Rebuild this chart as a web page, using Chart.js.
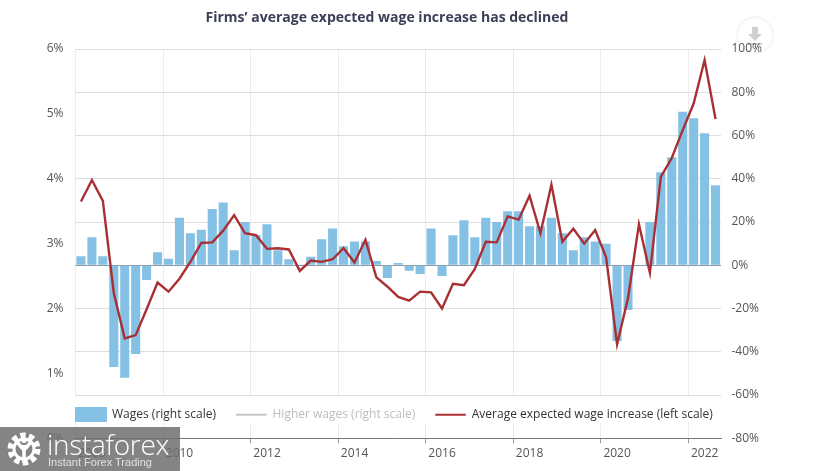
<!DOCTYPE html>
<html>
<head>
<meta charset="utf-8">
<script src="https://cdn.jsdelivr.net/npm/chart.js@4"></script>
<style>
  html, body { margin: 0; padding: 0; background: #fff; }
  #wrap { position: relative; width: 816px; height: 471px; overflow: hidden; }
  #myChart { position: absolute; left: 0; top: 0; }
  #download { position: absolute; left: 735px; top: 15px; }
  #logo { position: absolute; left: 0; top: 427px; width: 180px; height: 44px; background: rgba(110,110,110,.85); color: #fff; }
  #logo svg { position: absolute; left: 6px; top: 4px; }
  #logo .name { position: absolute; left: 47px; top: -2px; font: 300 28px "Open Sans", sans-serif; letter-spacing: -.3px; white-space: nowrap; }
  #logo .sub { position: absolute; left: 48px; top: 29px; font: 11px "Liberation Sans", sans-serif; color: #e2e2e2; white-space: nowrap; }
</style>
</head>
<body>
<div id="wrap">
  <svg id="download" width="42" height="42">
    <circle cx="20" cy="20" r="18" fill="#fff" stroke="#f3f3f3" stroke-width="1.5"/>
    <path d="M17 13h6v7h4l-7 7-7-7h4z M13 29h14v2H13z" fill="#cfcfcf" transform="translate(0,-1)"/>
  </svg>
  <canvas id="myChart" width="816" height="471"></canvas>
  <div id="logo">
    <svg width="36" height="36" viewBox="0 0 36 36">
      <circle cx="18" cy="18" r="13" fill="none" stroke="#fff" stroke-width="7" stroke-dasharray="5 3.2"/>
      <circle cx="18" cy="18" r="10" fill="none" stroke="#fff" stroke-width="3"/>
      <path d="M18 14v18 M10 10l8 9 8-9" fill="none" stroke="#fff" stroke-width="3.5"/>
      <circle cx="18" cy="9" r="3" fill="#fff"/>
    </svg>
    <div class="name">instaforex</div>
    <div class="sub">Instant Forex Trading</div>
  </div>
</div>
<script>
const chartTitle = 'Firms’ average expected wage increase has declined';
const quarters = [
  '2008Q1','2008Q2','2008Q3','2008Q4','2009Q1','2009Q2','2009Q3','2009Q4',
  '2010Q1','2010Q2','2010Q3','2010Q4','2011Q1','2011Q2','2011Q3','2011Q4',
  '2012Q1','2012Q2','2012Q3','2012Q4','2013Q1','2013Q2','2013Q3','2013Q4',
  '2014Q1','2014Q2','2014Q3','2014Q4','2015Q1','2015Q2','2015Q3','2015Q4',
  '2016Q1','2016Q2','2016Q3','2016Q4','2017Q1','2017Q2','2017Q3','2017Q4',
  '2018Q1','2018Q2','2018Q3','2018Q4','2019Q1','2019Q2','2019Q3','2019Q4',
  '2020Q1','2020Q2','2020Q3','2020Q4','2021Q1','2021Q2','2021Q3','2021Q4',
  '2022Q1','2022Q2','2022Q3'
];
const tickYears = ['2008','2010','2012','2014','2016','2018','2020','2022'];
const wages = [
  4.2, 13, 4.2, -47, -52, -41, -6.8, 6,
  3, 22, 14.8, 16.4, 26, 29, 7, 20,
  14, 19, 7, 2.8, 0.4, 4, 12, 17,
  8.8, 11, 11, 2, -5.9, 1, -2.5, -4,
  17, -5, 13.9, 20.8, 13, 22, 20, 25,
  25, 18, 18, 22, 14.8, 7, 13, 11,
  10, -35, -20.7, 0, 20, 43, 50, 71,
  68, 61, 37
];
const higherWages = [];
const expectedIncrease = [
  3.65, 3.98, 3.66, 2.24, 1.54, 1.59, 1.99, 2.40,
  2.26, 2.46, 2.72, 3.01, 3.02, 3.2, 3.44, 3.16,
  3.13, 2.92, 2.93, 2.91, 2.58, 2.74, 2.72, 2.76,
  2.93, 2.71, 3.06, 2.48, 2.34, 2.18, 2.12, 2.26,
  2.25, 2.0, 2.38, 2.36, 2.61, 3.03, 3.02, 3.42,
  3.37, 3.74, 3.16, 3.91, 3.03, 3.23, 3.0, 3.21,
  2.79, 1.45, 2.16, 3.30, 2.55, 4.03, 4.32, 4.75,
  5.16, 5.83, 4.92
];

const BAR_BLUE = '#85c1e5';
const LINE_RED = '#a83034';
const FONT = '"Open Sans", sans-serif';

// solid swatch for the bar series, the legend's own rect is capped at font height
const barSwatch = document.createElement('canvas');
barSwatch.width = 32;
barSwatch.height = 15;
const swatchCtx = barSwatch.getContext('2d');
swatchCtx.fillStyle = BAR_BLUE;
swatchCtx.fillRect(0, 0, 32, 15);

const isYearTick = (i) => {
  const q = quarters[i];
  return !!q && q.endsWith('Q1') && tickYears.includes(q.slice(0, 4));
};

// legend sits inside the plot, on a white strip; bounds matter since draw() clips to them
const legendStrip = {
  id: 'legendStrip',
  afterLayout(chart) {
    const legend = chart.legend;
    legend.left = 55.5;
    legend.right = 760;
    legend.top = 388.8;
    legend.bottom = 440;
  },
  beforeDatasetsDraw(chart) {
    const { ctx, chartArea } = chart;
    ctx.save();
    ctx.fillStyle = '#fff';
    ctx.fillRect(chartArea.left - 1, 396.5, chartArea.width + 2, 26.5);
    ctx.restore();
    chart.legend.draw();
  }
};

new Chart(document.getElementById('myChart'), {
  data: {
    labels: quarters,
    datasets: [
      { type: 'bar', label: 'Wages (right scale)', data: wages, yAxisID: 'yR', backgroundColor: BAR_BLUE,
        borderWidth: 0, categoryPercentage: 0.83, barPercentage: 1, order: 2 },
      { type: 'line', label: 'Higher wages (right scale)', data: higherWages, yAxisID: 'yR', borderColor: '#c4c8c8',
        borderWidth: 2, pointRadius: 0, order: 1 },
      { type: 'line', label: 'Average expected wage increase (left scale)', data: expectedIncrease, yAxisID: 'yL',
        borderColor: LINE_RED, borderWidth: 2.4, pointRadius: 0, tension: 0, order: 0 }
    ]
  },
  options: {
    responsive: false,
    animation: false,
    layout: { padding: { left: 0, right: 42, top: 0, bottom: 0 } },
    plugins: {
      tooltip: { enabled: false },
      title: {
        display: true,
        text: chartTitle,
        color: '#3b3f58',
        font: { family: FONT, size: 14, weight: '700', lineHeight: 1.2 },
        padding: { top: 10, bottom: 21.2 }
      },
      legend: {
        position: 'top',
        align: 'start',
        maxHeight: 1,
        labels: {
          usePointStyle: true,
          pointStyleWidth: 30.5,
          padding: 20,
          font: { family: FONT, size: 12 },
          generateLabels(chart) {
            return chart.data.datasets.map((ds, i) => ({
              text: ds.label,
              datasetIndex: i,
              fontColor: i === 1 ? '#bcbcbc' : '#333',
              pointStyle: i === 0 ? barSwatch : 'line',
              strokeStyle: ds.borderColor,
              fillStyle: ds.backgroundColor,
              lineWidth: 2
            }));
          }
        }
      }
    },
    scales: {
      x: {
        type: 'category',
        offset: true,
        afterFit(scale) { scale.height = 32.7; },
        border: { color: '#777', width: 1 },
        grid: {
          offset: true,
          tickLength: 5,
          color: (c) => (isYearTick(c.index) ? '#ececec' : 'rgba(0,0,0,0)'),
          tickColor: (c) => (isYearTick(c.index) ? '#999' : 'rgba(0,0,0,0)')
        },
        ticks: {
          autoSkip: false,
          maxRotation: 0,
          minRotation: 0,
          labelOffset: 11,
          padding: 3,
          color: '#555',
          font: { family: FONT, size: 12 },
          callback(value, index) { return isYearTick(index) ? quarters[index].slice(0, 4) : ''; }
        }
      },
      yL: {
        position: 'left',
        min: 0,
        max: 6,
        afterFit(scale) { scale.width = 75.5; },
        border: { display: false },
        grid: { display: false, drawTicks: false },
        ticks: {
          stepSize: 1,
          padding: 12,
          color: '#555',
          font: { family: FONT, size: 12 },
          callback: (v) => v + '%'
        }
      },
      yR: {
        position: 'right',
        min: -80,
        max: 100,
        afterFit(scale) { scale.width = 53; },
        border: { display: false },
        grid: {
          drawTicks: false,
          color: (c) => (c.tick && c.tick.value === 0 ? '#8c9ba6' : '#dedede')
        },
        ticks: {
          stepSize: 20,
          padding: 10.5,
          color: '#555',
          font: { family: FONT, size: 12 },
          callback: (v) => v + '%'
        }
      }
    }
  },
  plugins: [legendStrip]
});
</script>
</body>
</html>
